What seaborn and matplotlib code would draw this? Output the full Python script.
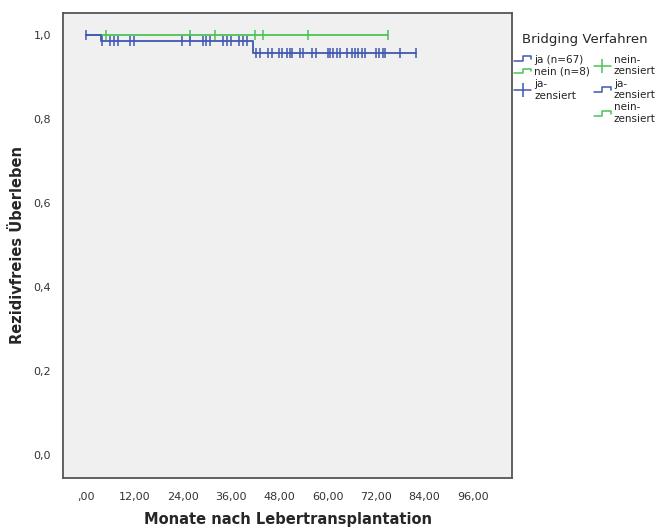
import numpy as np
import pandas as pd
import matplotlib
matplotlib.use("Agg")
import matplotlib.pyplot as plt
import seaborn as sns
from matplotlib.lines import Line2D
from matplotlib.legend_handler import HandlerBase

# Kaplan-Meier Stufen
ja_zeit = [0.0, 3.8, 41.5, 82.0]
ja_surv = [1.0, 0.985, 0.957, 0.957]
nein_zeit = [0.0, 75.0]
nein_surv = [1.0, 1.0]

# zensierte Faelle (Monate)
ja_zensiert = [0, 3.9, 6, 7, 7.9, 10.9, 11.9, 23.9, 25.8, 29.1, 29.9, 30.8,
               34.1, 34.9, 35.9, 38, 39, 39.9, 42.3, 43.2, 45.2, 46.1, 48,
               48.6, 49.8, 50.6, 51, 53.1, 53.9, 56, 57.1, 60.1, 60.5, 61.4,
               62.2, 62.9, 64.8, 65.9, 66.7, 67.6, 68.4, 69.2, 72, 72.8,
               73.6, 74.2, 77.9, 82]
nein_zensiert = [5, 25.8, 32, 42, 44, 55, 75]

x_ticks = [0, 12, 24, 36, 48, 60, 72, 84, 96]
x_labels = [",00", "12,00", "24,00", "36,00", "48,00", "60,00", "72,00", "84,00", "96,00"]
y_ticks = [0.0, 0.2, 0.4, 0.6, 0.8, 1.0]
y_labels = ["0,0", "0,2", "0,4", "0,6", "0,8", "1,0"]

blau = "#4057b0"
gruen = "#4cc253"

sns.set_style("white")
plt.rcParams["font.family"] = ["DejaVu Sans"]


def stufe(zeiten, surv, t):
    # Ueberlebenswert zum Zeitpunkt t (steps-post)
    idx = np.searchsorted(zeiten, t, side="right") - 1
    return np.array(surv)[idx]


fig = plt.figure(figsize=(6.68, 5.30), dpi=100)
ax = fig.add_axes([0.0943, 0.0981, 0.6722, 0.8774])
ax.set_facecolor("#f0f0f0")

df_ja = pd.DataFrame({"zeit": ja_zeit, "surv": ja_surv})
df_nein = pd.DataFrame({"zeit": nein_zeit, "surv": nein_surv})
sns.lineplot(data=df_nein, x="zeit", y="surv", drawstyle="steps-post",
             estimator=None, color=gruen, lw=1.3, ax=ax)
sns.lineplot(data=df_ja, x="zeit", y="surv", drawstyle="steps-post",
             estimator=None, color=blau, lw=1.3, ax=ax)

ax.plot(nein_zensiert, stufe(nein_zeit, nein_surv, nein_zensiert), ls="none",
        marker="|", ms=6.5, mew=1.1, color=gruen)
ax.plot(ja_zensiert, stufe(ja_zeit, ja_surv, ja_zensiert), ls="none",
        marker="|", ms=6.5, mew=1.1, color=blau)

ax.set_xlim(-5.7, 105.7)
ax.set_ylim(-0.055, 1.052)
ax.set_xticks(x_ticks)
ax.set_xticklabels(x_labels)
ax.set_yticks(y_ticks)
ax.set_yticklabels(y_labels)
ax.tick_params(axis="both", direction="out", length=5, width=1.2,
               colors="#333333", labelsize=8, labelcolor="#333333")
ax.tick_params(axis="x", pad=5)
for s in ax.spines.values():
    s.set_color("#555555")
    s.set_linewidth(1.3)

ax.set_xlabel("Monate nach Lebertransplantation", fontsize=10.5,
              fontweight="bold", labelpad=7)
ax.set_ylabel("Rezidivfreies Überleben", fontsize=10.5, fontweight="bold",
              labelpad=6)


class StufenHandler(HandlerBase):
    def create_artists(self, legend, orig_handle, xdescent, ydescent,
                       width, height, fontsize, trans):
        x0 = -xdescent
        y0 = -ydescent
        xs = [x0, x0 + width * 0.5, x0 + width * 0.5, x0 + width, x0 + width]
        ys = [y0 + height * 0.2, y0 + height * 0.2, y0 + height * 0.85,
              y0 + height * 0.85, y0 + height * 0.5]
        linie = Line2D(xs, ys, color=orig_handle.get_color(), lw=1.1)
        linie.set_transform(trans)
        return [linie]


h_ja = Line2D([], [], color=blau)
h_nein = Line2D([], [], color=gruen)
h_ja_z = Line2D([], [], color=blau, marker="|", ms=10, mew=1.1, lw=1.1)
h_nein_z = Line2D([], [], color=gruen, marker="|", ms=10, mew=1.1, lw=1.1)
h_ja2 = Line2D([], [], color=blau)
h_nein2 = Line2D([], [], color=gruen)

handles = [h_ja, h_nein, h_ja_z, h_nein_z, h_ja2, h_nein2]
labels = ["ja (n=67)", "nein (n=8)", "ja-\nzensiert",
          "nein-\nzensiert", "ja-\nzensiert", "nein-\nzensiert"]
hmap = {h_ja: StufenHandler(), h_nein: StufenHandler(),
        h_ja2: StufenHandler(), h_nein2: StufenHandler()}

leg = fig.legend(handles, labels, handler_map=hmap, ncol=2,
                 loc="upper left", bbox_to_anchor=(0.762, 0.947),
                 frameon=False, fontsize=7.5, title="Bridging Verfahren",
                 title_fontsize=9.5, handlelength=1.6, handletextpad=0.3,
                 columnspacing=0.4, labelspacing=0.22, borderaxespad=0.2,
                 borderpad=0.3)
leg._legend_title_box.sep = 9
leg._legend_box.sep = 6
leg._legend_handle_box.align = "top"
for t in leg.get_texts():
    t.set_color("#222222")
    t.set_linespacing(1.2)

fig.savefig("out.png", dpi=100)
